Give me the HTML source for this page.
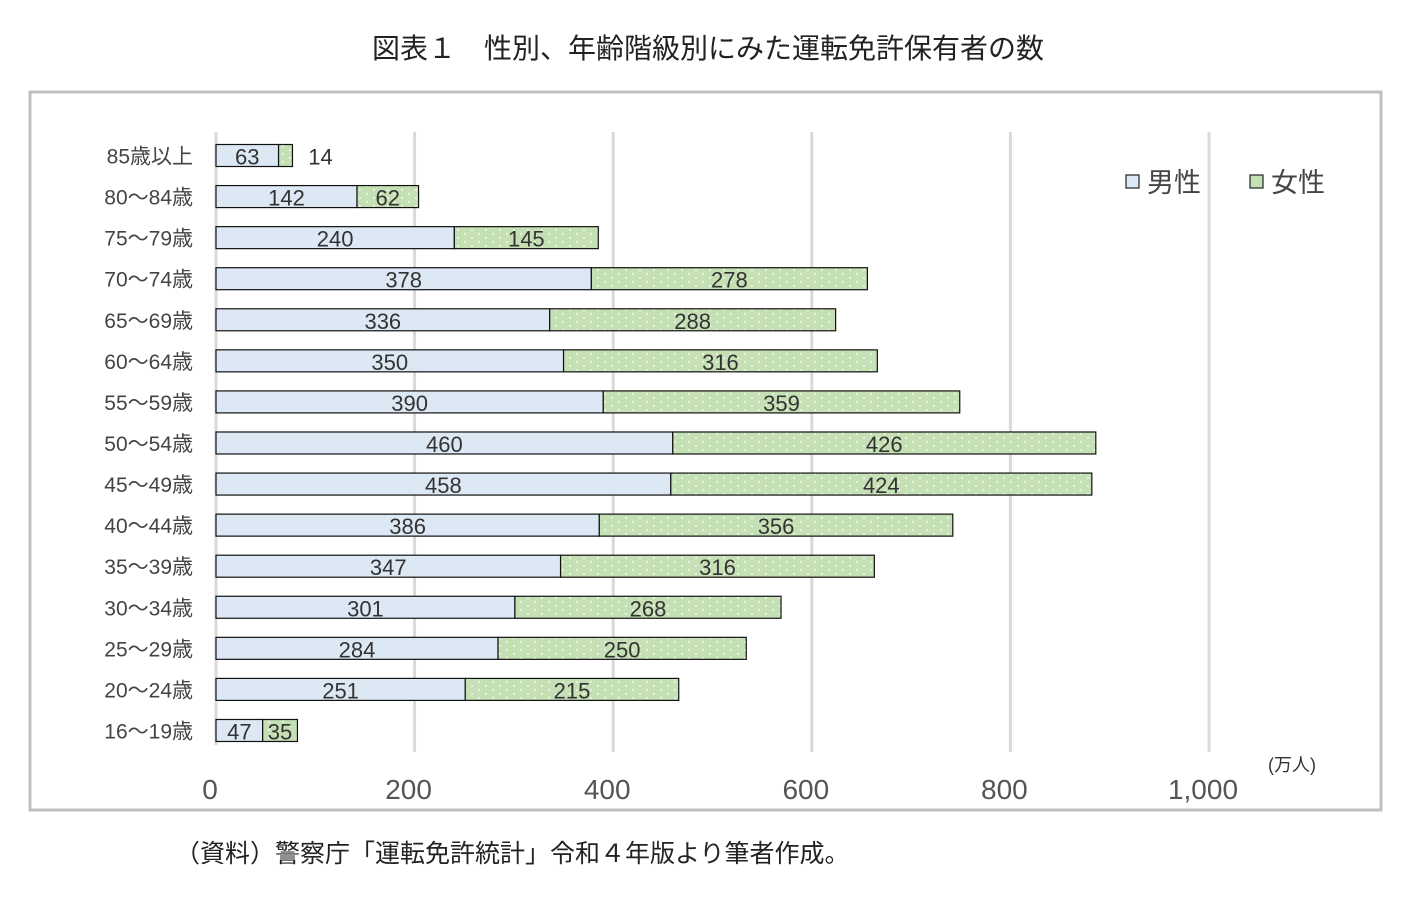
<!DOCTYPE html>
<html><head><meta charset="utf-8"><style>
body{margin:0;background:#fff;}
svg text{font-family:"Liberation Sans","Noto Sans CJK JP",sans-serif;}
</style></head><body>
<svg width="1412" height="894" viewBox="0 0 1412 894">
<defs><pattern id="dots" width="14" height="8" patternUnits="userSpaceOnUse"><rect width="14" height="8" fill="#c5e0b4"/><circle cx="3" cy="2" r="0.9" fill="#fff"/><circle cx="10" cy="6" r="0.9" fill="#fff"/></pattern></defs>
<text x="708" y="58" text-anchor="middle" font-size="28" fill="#222">図表１　性別、年齢階級別にみた運転免許保有者の数</text>
<rect x="30" y="92" width="1351" height="718" fill="none" stroke="#bfbfbf" stroke-width="3"/>
<g id="grid"></g><g id="bars"></g><g id="labels"></g>
<text x="1292" y="771" text-anchor="middle" font-size="18" fill="#333">(万人)</text>
<rect x="1126" y="175" width="13" height="13" fill="#dde8f5" stroke="#222" stroke-width="1.2"/>
<text x="1147" y="192" font-size="27" fill="#444">男性</text>
<rect x="1250" y="175" width="13" height="13" fill="#c5e0b4" stroke="#222" stroke-width="1.2"/>
<text x="1271" y="192" font-size="27" fill="#444">女性</text>
<text x="175" y="862" font-size="25" fill="#222">（資料）警察庁「運転免許統計」令和４年版より筆者作成。</text>
</svg>
<script>
const categories=["85歳以上","80～84歳","75～79歳","70～74歳","65～69歳","60～64歳","55～59歳","50～54歳","45～49歳","40～44歳","35～39歳","30～34歳","25～29歳","20～24歳","16～19歳"];
const male=[63,142,240,378,336,350,390,460,458,386,347,301,284,251,47];
const female=[14,62,145,278,288,316,359,426,424,356,316,268,250,215,35];
const ticks=[0,200,400,600,800,1000];
const tickLabels=["0","200","400","600","800","1,000"];
const NS="http://www.w3.org/2000/svg";
const x0=216,sc=0.993,y0=155.5,step=41.07,bh=22;
const X=v=>x0+v*sc, Y=i=>y0+i*step;
function mk(t,a,p){const e=document.createElementNS(NS,t);for(const k in a)e.setAttribute(k,a[k]);p.appendChild(e);return e;}
const g=document.getElementById('grid'),b=document.getElementById('bars'),l=document.getElementById('labels');
ticks.forEach((v,i)=>{
 if(i>0){const ln=mk('line',{x1:X(v),x2:X(v),y1:132,y2:752,stroke:'#d9d9d9','stroke-width':3},g);
 
 }
 const t=mk('text',{x:X(v)-6,y:799,'text-anchor':'middle','font-size':28,fill:'#555'},l);t.textContent=tickLabels[i];
 
 
});
const ax=mk('line',{x1:x0,x2:x0,y1:132,y2:745,stroke:'#d9d9d9','stroke-width':3},g);


categories.forEach((c,i)=>{
 const y=Y(i);
 const ct=mk('text',{x:193,y:y+8,'text-anchor':'end','font-size':21,fill:'#444'},l);ct.textContent=c;
 
 
 const m=mk('rect',{x:x0,y:y-bh/2,width:male[i]*sc,height:bh,fill:'#dde8f5',stroke:'#111','stroke-width':1.2},b);
 
 
 const f=mk('rect',{x:X(male[i]),y:y-bh/2,width:female[i]*sc,height:bh,fill:'url(#dots)',stroke:'#111','stroke-width':1.2},b);
 
 
 const mt=mk('text',{x:X(male[i]/2),y:y+9,'text-anchor':'middle','font-size':22,fill:'#333'},l);mt.textContent=male[i];
 
 
 const fx=female[i]<25?X(male[i]+female[i])+28:X(male[i]+female[i]/2);
 const ft=mk('text',{x:fx,y:y+9,'text-anchor':'middle','font-size':22,fill:'#333'},l);ft.textContent=female[i];
 
 
});
</script>
</body></html>
